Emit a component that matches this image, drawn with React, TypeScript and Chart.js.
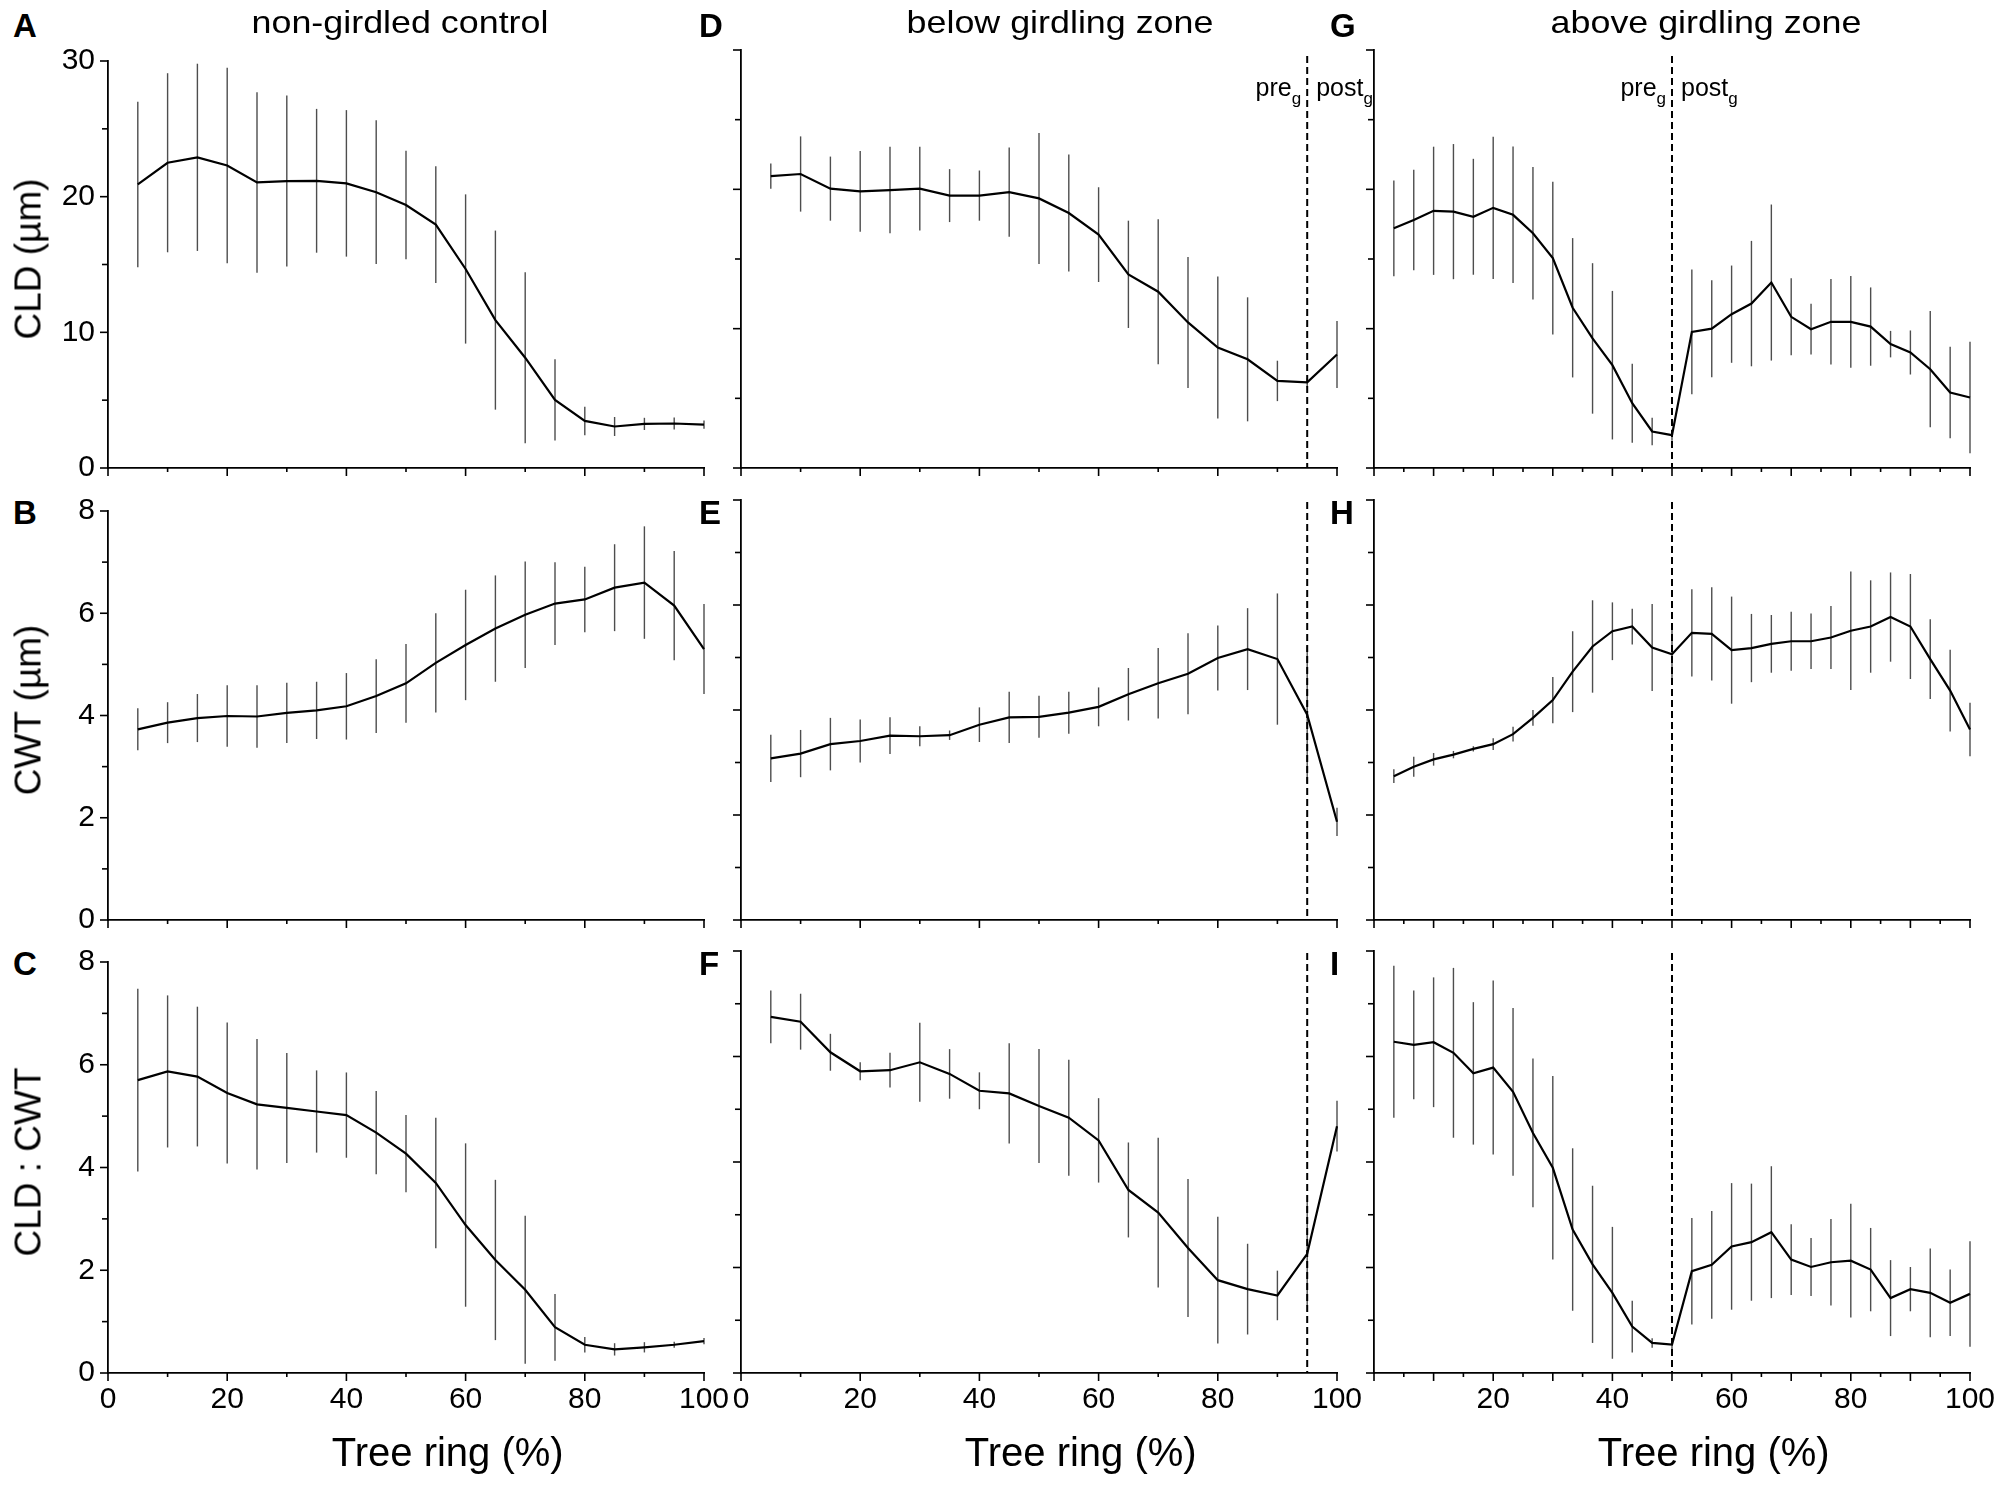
import { useEffect, useRef } from 'react';
import { Chart, registerables } from 'chart.js';
import type { Plugin } from 'chart.js';

Chart.register(...registerables);

const FONT = '"Liberation Sans", Arial, Helvetica, sans-serif';

// sample positions along the tree ring (%)
const RING = [5, 10, 15, 20, 25, 30, 35, 40, 45, 50, 55, 60, 65, 70, 75, 80, 85, 90, 95, 100];
const RING_ABOVE = [3.33, 6.67, 10, 13.33, 16.67, 20, 23.33, 26.67, 30, 33.33, 36.67, 40, 43.33, 46.67, 50,
  53.33, 56.67, 60, 63.33, 66.67, 70, 73.33, 76.67, 80, 83.33, 86.67, 90, 93.33, 96.67, 100];

// non-girdled control (A, B, C)
const CLD_CONTROL = [20.9, 22.5, 22.9, 22.3, 21.05, 21.15, 21.17, 20.98, 20.33, 19.38, 17.94, 14.67, 10.9, 8.13, 5.02, 3.47, 3.06, 3.25, 3.28, 3.2];
const CLD_CONTROL_SD = [6.1, 6.6, 6.9, 7.2, 6.65, 6.3, 5.3, 5.4, 5.3, 4.0, 4.3, 5.5, 6.6, 6.3, 3.0, 1.05, 0.7, 0.45, 0.45, 0.3];
const CWT_CONTROL = [3.73, 3.86, 3.95, 3.99, 3.98, 4.05, 4.1, 4.18, 4.38, 4.63, 5.03, 5.38, 5.7, 5.97, 6.19, 6.27, 6.5, 6.6, 6.15, 5.3];
const CWT_CONTROL_SD = [0.41, 0.4, 0.47, 0.6, 0.61, 0.59, 0.56, 0.65, 0.72, 0.77, 0.97, 1.08, 1.04, 1.04, 0.81, 0.64, 0.85, 1.1, 1.07, 0.88];
const RATIO_CONTROL = [5.7, 5.87, 5.77, 5.45, 5.23, 5.16, 5.09, 5.02, 4.68, 4.27, 3.7, 2.88, 2.2, 1.62, 0.89, 0.55, 0.46, 0.5, 0.55, 0.62];
const RATIO_CONTROL_SD = [1.78, 1.48, 1.36, 1.37, 1.27, 1.07, 0.8, 0.83, 0.81, 0.75, 1.27, 1.59, 1.56, 1.44, 0.65, 0.15, 0.12, 0.1, 0.06, 0.06];

// below girdling zone (D, E, F)
const CLD_BELOW = [20.95, 21.1, 20.05, 19.85, 19.95, 20.05, 19.55, 19.55, 19.8, 19.35, 18.3, 16.75, 13.9, 12.65, 10.45, 8.65, 7.8, 6.25, 6.15, 8.15];
const CLD_BELOW_SD = [0.9, 2.7, 2.3, 2.9, 3.1, 3.0, 1.9, 1.8, 3.2, 4.7, 4.2, 3.4, 3.85, 5.2, 4.7, 5.1, 4.45, 1.45, 0.3, 2.4];
const CWT_BELOW = [3.08, 3.17, 3.35, 3.41, 3.51, 3.5, 3.52, 3.72, 3.86, 3.87, 3.95, 4.06, 4.3, 4.51, 4.69, 4.99, 5.16, 4.97, 3.91, 1.87];
const CWT_BELOW_SD = [0.45, 0.45, 0.5, 0.41, 0.35, 0.19, 0.09, 0.33, 0.49, 0.4, 0.4, 0.37, 0.5, 0.67, 0.77, 0.62, 0.78, 1.25, 1.3, 0.27];
const RATIO_BELOW = [6.75, 6.66, 6.08, 5.72, 5.74, 5.89, 5.67, 5.35, 5.3, 5.06, 4.84, 4.41, 3.47, 3.04, 2.37, 1.76, 1.59, 1.47, 2.26, 4.68];
const RATIO_BELOW_SD = [0.5, 0.53, 0.35, 0.17, 0.33, 0.75, 0.47, 0.35, 0.95, 1.08, 1.1, 0.8, 0.9, 1.42, 1.31, 1.2, 0.86, 0.47, 0.98, 0.48];

// above girdling zone (G, H, I)
const CLD_ABOVE = [17.2, 17.8, 18.46, 18.4, 18.03, 18.67, 18.17, 16.85, 15.06, 11.5, 9.3, 7.38, 4.65, 2.62, 2.36,
  9.77, 10.0, 11.04, 11.8, 13.31, 10.85, 9.96, 10.49, 10.49, 10.15, 8.89, 8.29, 7.09, 5.42, 5.06];
const CLD_ABOVE_SD = [3.43, 3.6, 4.6, 4.85, 4.16, 5.1, 4.9, 4.76, 5.48, 5.0, 5.4, 5.33, 2.84, 0.98, 0.4,
  4.48, 3.48, 3.49, 4.5, 5.6, 2.76, 1.82, 3.07, 3.29, 2.81, 0.95, 1.58, 4.17, 3.29, 4.0];
const CWT_ABOVE = [2.74, 2.92, 3.06, 3.15, 3.26, 3.35, 3.54, 3.85, 4.19, 4.73, 5.21, 5.5, 5.59, 5.19, 5.06,
  5.47, 5.45, 5.14, 5.18, 5.26, 5.31, 5.31, 5.38, 5.51, 5.59, 5.77, 5.59, 4.97, 4.37, 3.63];
const CWT_ABOVE_SD = [0.13, 0.19, 0.12, 0.07, 0.05, 0.11, 0.14, 0.15, 0.44, 0.77, 0.88, 0.55, 0.34, 0.83, 0.5,
  0.83, 0.89, 1.02, 0.65, 0.55, 0.56, 0.53, 0.6, 1.13, 0.88, 0.85, 1.0, 0.76, 0.78, 0.51];
const RATIO_ABOVE = [6.28, 6.22, 6.27, 6.07, 5.68, 5.79, 5.33, 4.55, 3.89, 2.72, 2.06, 1.52, 0.88, 0.57, 0.54,
  1.93, 2.05, 2.4, 2.48, 2.67, 2.15, 2.01, 2.1, 2.13, 1.96, 1.42, 1.59, 1.52, 1.33, 1.5];
const RATIO_ABOVE_SD = [1.44, 1.03, 1.23, 1.61, 1.35, 1.65, 1.59, 1.41, 1.74, 1.54, 1.49, 1.25, 0.49, 0.09, 0.1,
  1.01, 1.02, 1.2, 1.11, 1.25, 0.67, 0.55, 0.82, 1.08, 0.79, 0.72, 0.42, 0.84, 0.63, 1.0];

// tick values
const X_LABELS = [0, 20, 40, 60, 80, 100];
const X_MINOR = [10, 30, 50, 70, 90];
const X_LABELS_ABOVE = [20, 40, 60, 80, 100];
const X_MAJOR_ABOVE = [0, 10, 20, 30, 40, 50, 60, 70, 80, 90, 100];
const X_MINOR_ABOVE = [5, 15, 25, 35, 45, 55, 65, 75, 85, 95];
const CLD_TICKS = [0, 10, 20, 30];
const CLD_MINOR = [5, 15, 25];
const CWT_TICKS = [0, 2, 4, 6, 8];
const CWT_MINOR = [1, 3, 5, 7];

const GIRDLE_BELOW = 95;
const GIRDLE_ABOVE = 50;

const COL_TITLES = ['non-girdled control', 'below girdling zone', 'above girdling zone'];
const ROW_TITLES = ['CLD (µm)', 'CWT (µm)', 'CLD : CWT'];
const X_TITLE = 'Tree ring (%)';

// layout (page pixels)
const COLS = [{ l: 108, r: 704 }, { l: 741, r: 1337 }, { l: 1374, r: 1970 }];
const ROWS = [{ t: 50, b: 468 }, { t: 500, b: 920 }, { t: 951, b: 1373 }];
const Y_AXIS_W = 60;
const X_AXIS_H = 60;
const PAD_T = 20;
const PAD_R = 50;

type PanelDef = {
  letter: string;
  col: number;
  row: number;
  x: number[];
  mean: number[];
  sd: number[];
  yMax: number;
  yMajor: number[];
  yMinor: number[];
  girdle?: number;
};

const PANELS: PanelDef[] = [
  { letter: 'A', col: 0, row: 0, x: RING, mean: CLD_CONTROL, sd: CLD_CONTROL_SD, yMax: 30, yMajor: CLD_TICKS, yMinor: CLD_MINOR },
  { letter: 'B', col: 0, row: 1, x: RING, mean: CWT_CONTROL, sd: CWT_CONTROL_SD, yMax: 8, yMajor: CWT_TICKS, yMinor: CWT_MINOR },
  { letter: 'C', col: 0, row: 2, x: RING, mean: RATIO_CONTROL, sd: RATIO_CONTROL_SD, yMax: 8, yMajor: CWT_TICKS, yMinor: CWT_MINOR },
  { letter: 'D', col: 1, row: 0, x: RING, mean: CLD_BELOW, sd: CLD_BELOW_SD, yMax: 30, yMajor: CLD_TICKS, yMinor: CLD_MINOR, girdle: GIRDLE_BELOW },
  { letter: 'E', col: 1, row: 1, x: RING, mean: CWT_BELOW, sd: CWT_BELOW_SD, yMax: 8, yMajor: CWT_TICKS, yMinor: CWT_MINOR, girdle: GIRDLE_BELOW },
  { letter: 'F', col: 1, row: 2, x: RING, mean: RATIO_BELOW, sd: RATIO_BELOW_SD, yMax: 8, yMajor: CWT_TICKS, yMinor: CWT_MINOR, girdle: GIRDLE_BELOW },
  { letter: 'G', col: 2, row: 0, x: RING_ABOVE, mean: CLD_ABOVE, sd: CLD_ABOVE_SD, yMax: 30, yMajor: CLD_TICKS, yMinor: CLD_MINOR, girdle: GIRDLE_ABOVE },
  { letter: 'H', col: 2, row: 1, x: RING_ABOVE, mean: CWT_ABOVE, sd: CWT_ABOVE_SD, yMax: 8, yMajor: CWT_TICKS, yMinor: CWT_MINOR, girdle: GIRDLE_ABOVE },
  { letter: 'I', col: 2, row: 2, x: RING_ABOVE, mean: RATIO_ABOVE, sd: RATIO_ABOVE_SD, yMax: 8, yMajor: CWT_TICKS, yMinor: CWT_MINOR, girdle: GIRDLE_ABOVE },
];

// error bars, girdling line, pre/post labels and tick marks
function panelMarks(def: PanelDef): Plugin<'line'> {
  const above = def.col === 2;
  const xMajor = above ? X_MAJOR_ABOVE : X_LABELS;
  const xMinor = above ? X_MINOR_ABOVE : X_MINOR;
  return {
    id: 'panelMarks' + def.letter,
    beforeDatasetsDraw(chart) {
      const { ctx } = chart;
      const x = chart.scales.x;
      const y = chart.scales.y;
      ctx.save();
      ctx.strokeStyle = '#4d4d4d';
      ctx.lineWidth = 1.4;
      def.x.forEach((v, i) => {
        const px = x.getPixelForValue(v);
        ctx.beginPath();
        ctx.moveTo(px, y.getPixelForValue(def.mean[i] + def.sd[i]));
        ctx.lineTo(px, y.getPixelForValue(Math.max(0, def.mean[i] - def.sd[i])));
        ctx.stroke();
      });
      ctx.restore();
    },
    afterDatasetsDraw(chart) {
      if (def.girdle === undefined) return;
      const { ctx, chartArea } = chart;
      const px = chart.scales.x.getPixelForValue(def.girdle);
      ctx.save();
      ctx.strokeStyle = '#000';
      ctx.lineWidth = 2;
      ctx.setLineDash([7, 4]);
      ctx.beginPath();
      ctx.moveTo(px, chartArea.top + (def.row === 0 ? 6 : 2));
      ctx.lineTo(px, chartArea.bottom);
      ctx.stroke();
      ctx.setLineDash([]);
      if (def.row === 0) {
        const base = chartArea.top + 46;
        ctx.fillStyle = '#000';
        ctx.textBaseline = 'alphabetic';
        const big = `25px ${FONT}`;
        const small = `17px ${FONT}`;
        ctx.font = big;
        const wPre = ctx.measureText('pre').width;
        ctx.font = small;
        const wSub = ctx.measureText('g').width;
        let sx = px - 6 - wPre - wSub;
        ctx.font = big;
        ctx.fillText('pre', sx, base);
        ctx.font = small;
        ctx.fillText('g', sx + wPre, base + 8);
        sx = px + 9;
        ctx.font = big;
        const wPost = ctx.measureText('post').width;
        ctx.fillText('post', sx, base);
        ctx.font = small;
        ctx.fillText('g', sx + wPost, base + 8);
      }
      ctx.restore();
    },
    afterDraw(chart) {
      const { ctx, chartArea } = chart;
      const x = chart.scales.x;
      const y = chart.scales.y;
      ctx.save();
      ctx.strokeStyle = '#000';
      ctx.lineWidth = 1.6;
      const vTick = (v: number, len: number) => {
        const px = x.getPixelForValue(v);
        ctx.beginPath();
        ctx.moveTo(px, chartArea.bottom);
        ctx.lineTo(px, chartArea.bottom + len);
        ctx.stroke();
      };
      const hTick = (v: number, len: number) => {
        const py = y.getPixelForValue(v);
        ctx.beginPath();
        ctx.moveTo(chartArea.left, py);
        ctx.lineTo(chartArea.left - len, py);
        ctx.stroke();
      };
      xMajor.forEach((v) => vTick(v, 8));
      xMinor.forEach((v) => vTick(v, 4));
      def.yMajor.forEach((v) => hTick(v, 8));
      def.yMinor.forEach((v) => hTick(v, 6));
      ctx.restore();
    },
  };
}

function Panel({ def }: { def: PanelDef }) {
  const canvasRef = useRef<HTMLCanvasElement | null>(null);
  const col = COLS[def.col];
  const row = ROWS[def.row];
  const w = col.r - col.l + Y_AXIS_W + PAD_R;
  const h = row.b - row.t + PAD_T + X_AXIS_H;

  useEffect(() => {
    const ctx = canvasRef.current?.getContext('2d');
    if (!ctx) return;
    const xLabels = def.col === 2 ? X_LABELS_ABOVE : X_LABELS;
    const tickFont = { family: FONT, size: 30 };

    const chart = new Chart(ctx, {
      type: 'line',
      data: {
        datasets: [
          {
            data: def.x.map((v, i) => ({ x: v, y: def.mean[i] })),
            borderColor: '#000',
            borderWidth: 2.2,
            pointRadius: 0,
            tension: 0,
            fill: false,
            clip: false as any,
          },
        ],
      },
      options: {
        animation: false,
        responsive: false,
        events: [],
        layout: { padding: { top: PAD_T, right: PAD_R, left: 0, bottom: 0 } },
        plugins: { legend: { display: false }, tooltip: { enabled: false } },
        scales: {
          x: {
            type: 'linear',
            min: 0,
            max: 100,
            grid: { display: false, drawTicks: false },
            border: { display: true, color: '#000', width: 1.8 },
            ticks: {
              display: def.row === 2,
              font: tickFont,
              color: '#000',
              padding: 9,
              maxRotation: 0,
              autoSkip: false,
            },
            afterBuildTicks: (scale) => {
              scale.ticks = xLabels.map((v) => ({ value: v }));
            },
            afterFit: (scale) => {
              scale.height = X_AXIS_H;
            },
          },
          y: {
            type: 'linear',
            min: 0,
            max: def.yMax,
            grid: { display: false, drawTicks: false },
            border: { display: true, color: '#000', width: 1.8 },
            ticks: {
              display: def.col === 0,
              font: tickFont,
              color: '#000',
              padding: 13,
              autoSkip: false,
            },
            afterBuildTicks: (scale) => {
              scale.ticks = def.yMajor.map((v) => ({ value: v }));
            },
            afterFit: (scale) => {
              scale.width = Y_AXIS_W;
            },
          },
        },
      },
      plugins: [panelMarks(def)],
    });

    return () => {
      chart.destroy();
    };
  }, [def]);

  return (
    <canvas
      ref={canvasRef}
      width={w}
      height={h}
      style={{ position: 'absolute', left: col.l - Y_AXIS_W, top: row.t - PAD_T, width: w, height: h }}
    />
  );
}

const LETTER_X = [13, 699, 1330];
const TITLE_X = [400, 1060, 1706];

export default function App() {
  return (
    <div
      style={{
        position: 'absolute',
        left: 0,
        top: 0,
        width: 2008,
        height: 1486,
        background: '#fff',
        color: '#000',
        fontFamily: FONT,
        overflow: 'hidden',
      }}
    >
      {PANELS.map((p) => (
        <Panel key={p.letter} def={p} />
      ))}

      {PANELS.map((p) => (
        <div
          key={'l' + p.letter}
          style={{
            position: 'absolute',
            left: LETTER_X[p.col],
            top: (p.row === 0 ? 13 : ROWS[p.row].t) - 4,
            fontSize: 33,
            fontWeight: 'bold',
            lineHeight: 1,
          }}
        >
          {p.letter}
        </div>
      ))}

      {COL_TITLES.map((t, i) => (
        <div
          key={t}
          style={{
            position: 'absolute',
            left: TITLE_X[i],
            top: 6,
            fontSize: 32,
            lineHeight: 1,
            whiteSpace: 'nowrap',
            transform: 'translateX(-50%) scaleX(1.12)',
          }}
        >
          {t}
        </div>
      ))}

      {ROW_TITLES.map((t, i) => (
        <div
          key={t}
          style={{
            position: 'absolute',
            left: 28,
            top: (ROWS[i].t + ROWS[i].b) / 2,
            fontSize: 37,
            lineHeight: 1,
            whiteSpace: 'nowrap',
            transform: 'translate(-50%, -50%) rotate(-90deg)',
          }}
        >
          {t}
        </div>
      ))}

      {COLS.map((c, i) => (
        <div
          key={'x' + i}
          style={{
            position: 'absolute',
            left: c.l + 0.57 * (c.r - c.l),
            top: 1432,
            fontSize: 40,
            lineHeight: 1,
            whiteSpace: 'nowrap',
            transform: 'translateX(-50%)',
          }}
        >
          {X_TITLE}
        </div>
      ))}
    </div>
  );
}
